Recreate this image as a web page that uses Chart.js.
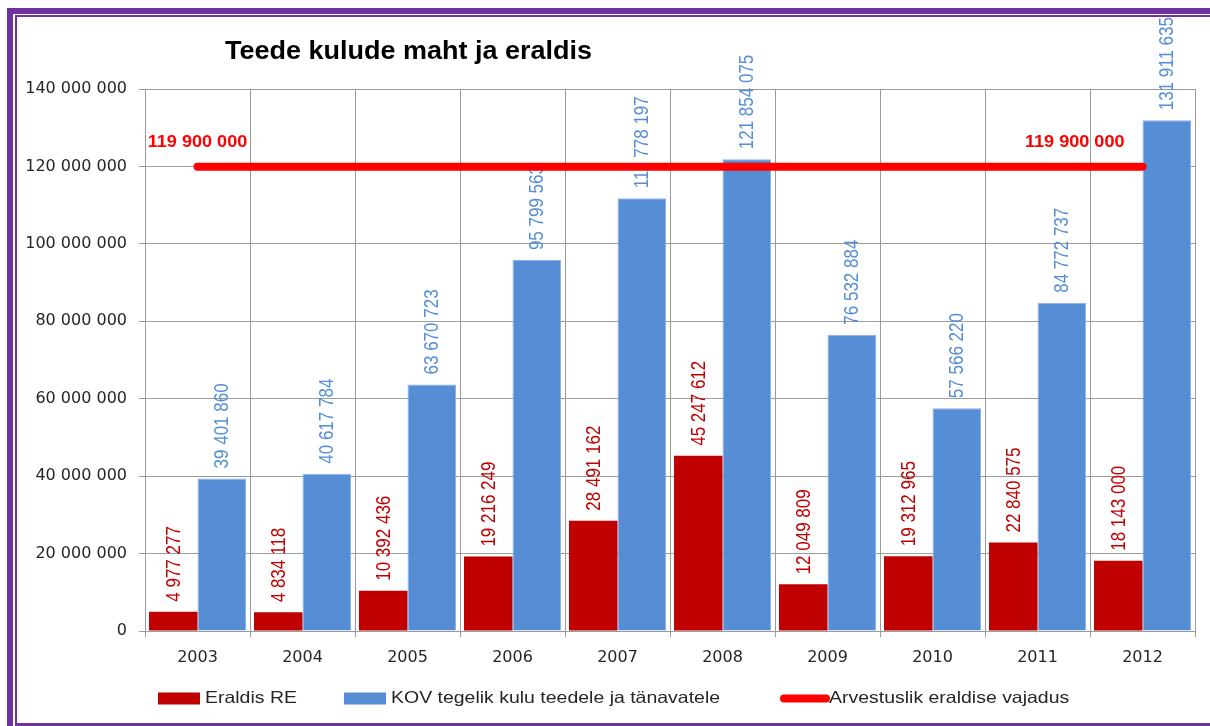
<!DOCTYPE html>
<html>
<head>
<meta charset="utf-8">
<script src="https://cdn.jsdelivr.net/npm/chart.js@4/dist/chart.umd.min.js"></script>
<style>
  html, body { margin: 0; padding: 0; background: #ffffff; }
  #wrap { width: 1210px; height: 726px; position: relative; }
</style>
</head>
<body>
<div id="wrap"><canvas id="c" width="1210" height="726"></canvas></div>
<script>
// ---- data ----
const categories = ['2003', '2004', '2005', '2006', '2007', '2008', '2009', '2010', '2011', '2012'];
const eraldisRE = [4977277, 4834118, 10392436, 19216249, 28491162, 45247612, 12049809, 19312965, 22840575, 18143000];
const kovKulu = [39401860, 40617784, 63670723, 95799563, 111778197, 121854075, 76532884, 57566220, 84772737, 131911635];
const vajadus = [119900000, 119900000, 119900000, 119900000, 119900000, 119900000, 119900000, 119900000, 119900000, 119900000];
const seriesNames = ['Eraldis RE', 'KOV tegelik kulu teedele ja tänavatele', 'Arvestuslik eraldise vajadus'];
const titleText = 'Teede kulude maht ja eraldis';
const yMin = 0, yMax = 140000000, yStep = 20000000;

// ---- styles ----
const RED = '#C00000';
const BLUE = '#558ED5';
const LINE_RED = '#FF0000';
const PURPLE = '#7030A0';
const GRID = '#9c9c9c';
const TXT = '#262626';

function fmt(v) {
  return String(Math.round(v)).replace(/\B(?=(\d{3})+(?!\d))/g, ' ');
}

function scaledText(ctx, text, x, y, sx, align) {
  ctx.save();
  ctx.translate(x, y);
  ctx.scale(sx, 1);
  ctx.textAlign = align;
  ctx.fillText(text, 0, 0);
  ctx.restore();
}

const framePlugin = {
  id: 'frame',
  beforeDraw(chart) {
    const ctx = chart.ctx;
    ctx.save();
    ctx.fillStyle = '#ffffff';
    ctx.fillRect(0, 0, chart.width, chart.height);
    ctx.fillStyle = PURPLE;
    // outer thick border
    ctx.fillRect(7, 8, chart.width - 7, 6);
    ctx.fillRect(7, 8, 6, chart.height - 8);
    // inner thin border
    ctx.fillRect(15, 15, chart.width - 15, 2);
    ctx.fillRect(15, 15, 2, chart.height - 15);
    ctx.fillRect(15, 723, chart.width - 15, 3);
    ctx.restore();
  },
  afterDraw(chart) {
    const ctx = chart.ctx;
    ctx.save();
    // title
    ctx.fillStyle = '#000000';
    ctx.font = 'bold 25px "Liberation Sans", Arial, sans-serif';
    ctx.textBaseline = 'alphabetic';
    scaledText(ctx, titleText, 225, 59, 1.08, 'left');

    // legend
    const legendY = 698.5;
    const items = [
      { text: seriesNames[0], color: RED, type: 'box', x: 158 },
      { text: seriesNames[1], color: BLUE, type: 'box', x: 344 },
      { text: seriesNames[2], color: LINE_RED, type: 'line', x: 782 }
    ];
    ctx.font = '16.5px "Liberation Sans", Arial, sans-serif';
    ctx.textBaseline = 'middle';
    items.forEach(it => {
      if (it.type === 'box') {
        ctx.fillStyle = it.color;
        ctx.fillRect(it.x, legendY - 6, 42, 12);
      } else {
        ctx.strokeStyle = it.color;
        ctx.lineWidth = 8;
        ctx.lineCap = 'round';
        ctx.beginPath();
        ctx.moveTo(it.x + 2, legendY);
        ctx.lineTo(it.x + 44, legendY);
        ctx.stroke();
      }
      ctx.fillStyle = TXT;
      scaledText(ctx, it.text, it.x + 47, legendY, 1.18, 'left');
    });

    // labels for the requirement line (first and last point)
    const meta = chart.getDatasetMeta(2);
    const pts = meta.data;
    ctx.fillStyle = LINE_RED;
    ctx.font = 'bold 16px "Liberation Sans", Arial, sans-serif';
    ctx.textBaseline = 'middle';
    const first = pts[0], last = pts[pts.length - 1];
    scaledText(ctx, fmt(vajadus[0]), first.x, first.y - 24, 1.13, 'center');
    scaledText(ctx, fmt(vajadus[vajadus.length - 1]), last.x - 18, last.y - 24, 1.13, 'right');
    ctx.restore();
  }
};

const barLabelPlugin = {
  id: 'barLabels',
  afterDatasetDraw(chart, args) {
    if (args.index > 1) return;
    const ctx = chart.ctx;
    const ds = chart.data.datasets[args.index];
    const meta = args.meta;
    ctx.save();
    ctx.font = '17px "Liberation Sans", Arial, sans-serif';
    ctx.fillStyle = ds.labelColor;
    ctx.textBaseline = 'middle';
    ctx.textAlign = 'left';
    meta.data.forEach((el, i) => {
      ctx.save();
      ctx.translate(el.x + 1, el.y - 10);
      ctx.rotate(-Math.PI / 2);
      ctx.scale(1, 1.15);
      ctx.fillText(fmt(ds.data[i]), 0, 0);
      ctx.restore();
    });
    ctx.restore();
  }
};

new Chart(document.getElementById('c'), {
  type: 'bar',
  data: {
    labels: categories,
    datasets: [
      {
        label: seriesNames[0],
        data: eraldisRE,
        backgroundColor: RED,
        borderColor: '#c83a3a',
        borderWidth: 0,
        labelColor: RED,
        categoryPercentage: 0.924,
        barPercentage: 1.0,
        order: 1
      },
      {
        label: seriesNames[1],
        data: kovKulu,
        backgroundColor: BLUE,
        borderColor: '#8fb3e6',
        borderWidth: 1,
        labelColor: BLUE,
        categoryPercentage: 0.924,
        barPercentage: 1.0,
        order: 1
      },
      {
        type: 'line',
        label: seriesNames[2],
        data: vajadus,
        borderColor: LINE_RED,
        backgroundColor: LINE_RED,
        borderWidth: 8,
        borderCapStyle: 'round',
        pointRadius: 0,
        fill: false,
        order: 0
      }
    ]
  },
  options: {
    responsive: false,
    animation: false,
    devicePixelRatio: 1,
    layout: { padding: { top: 89, right: 15, left: 0, bottom: 0 } },
    plugins: {
      legend: { display: false },
      title: { display: false },
      tooltip: { enabled: false }
    },
    scales: {
      x: {
        grid: { color: GRID, lineWidth: 1, tickLength: 6, offset: true },
        border: { color: GRID },
        ticks: {
          color: TXT,
          font: { family: '"DejaVu Sans", sans-serif', size: 16 },
          padding: 11,
          maxRotation: 0
        },
        afterFit(scale) { scale.height = 95; }
      },
      y: {
        min: yMin,
        max: yMax,
        grid: { color: GRID, lineWidth: 1, tickLength: 6 },
        border: { color: GRID },
        ticks: {
          stepSize: yStep,
          color: TXT,
          font: { family: '"DejaVu Sans", sans-serif', size: 16 },
          padding: 12,
          callback: (v) => fmt(v)
        },
        afterFit(scale) { scale.width = 145; }
      }
    }
  },
  plugins: [framePlugin, barLabelPlugin]
});
</script>
</body>
</html>
